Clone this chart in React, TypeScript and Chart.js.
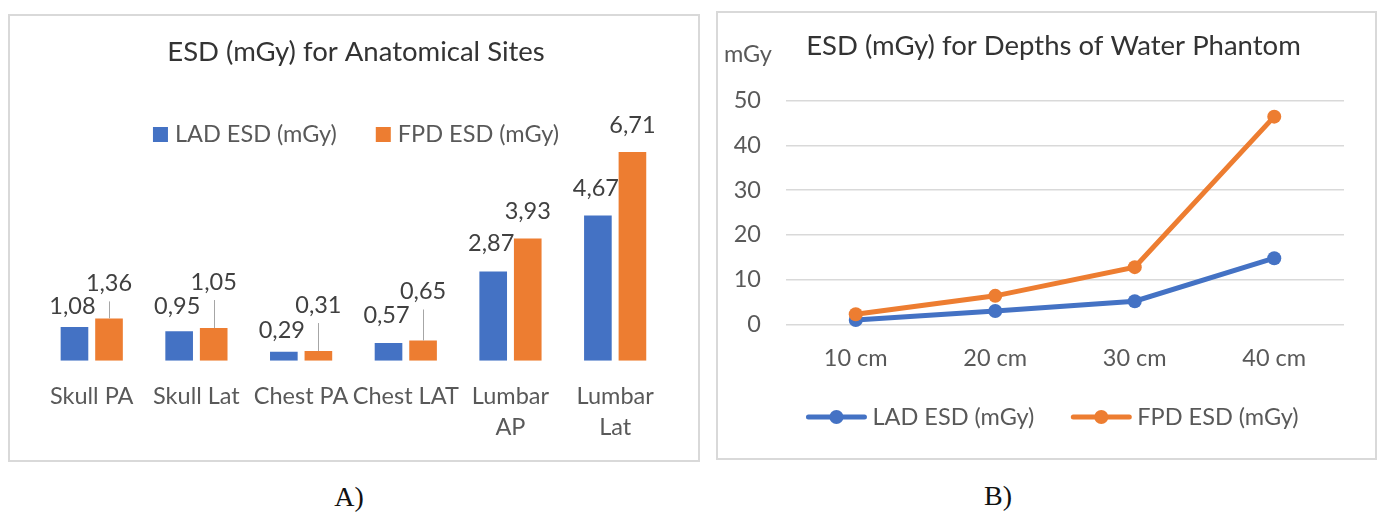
import React, { useEffect, useRef } from "react";
import { Chart, registerables } from "chart.js";

Chart.register(...registerables);

// ---------- data ----------
const siteCategories: string[][] = [
  ["Skull PA"],
  ["Skull Lat"],
  ["Chest PA"],
  ["Chest LAT"],
  ["Lumbar", "AP"],
  ["Lumbar", "Lat"],
];
const ladSiteValues = [1.08, 0.95, 0.29, 0.57, 2.87, 4.67];
const fpdSiteValues = [1.36, 1.05, 0.31, 0.65, 3.93, 6.71];

const depthCategories = ["10 cm", "20 cm", "30 cm", "40 cm"];
const ladDepthValues = [1.0, 3.0, 5.2, 14.8];
const fpdDepthValues = [2.3, 6.4, 12.8, 46.4];

const seriesNames = ["LAD ESD (mGy)", "FPD ESD (mGy)"];
const titleA = "ESD (mGy) for Anatomical Sites";
const titleB = "ESD (mGy) for Depths of Water Phantom";
const unitB = "mGy";

// ---------- style ----------
const ladLabelLift = [13, 17, 14, 20, 20, 19];
const fpdLabelLift = [27, 38, 38, 41, 19, 19];

const BLUE = "#4472C4";
const ORANGE = "#ED7D31";
const FONT = "Lato, 'Noto Sans', sans-serif";
const TEXT_TITLE = "#333333";
const TEXT_DARK = "#404040";
const TEXT_GRAY = "#595959";
const TITLE_SIZE = 27.5;
const TEXT_SIZE = 23.5;

const fmt = (v: number) => v.toFixed(2).replace(".", ",");

const annotA = {
  id: "annotA",
  afterDraw(chart: any) {
    const ctx = chart.ctx as CanvasRenderingContext2D;
    ctx.save();
    const cx = chart.width / 2 + 2;
    ctx.textBaseline = "alphabetic";
    // title
    ctx.font = `${TITLE_SIZE}px ${FONT}`;
    ctx.fillStyle = TEXT_TITLE;
    ctx.textAlign = "center";
    ctx.fillText(titleA, cx, 45);
    // legend
    ctx.font = `${TEXT_SIZE}px ${FONT}`;
    const sq = 15, gap = 7, itemGap = 39;
    const names = chart.data.datasets.map((d: any) => d.label);
    const widths = names.map((n: string) => ctx.measureText(n).width);
    const total = widths.reduce((a: number, w: number) => a + sq + gap + w, 0) + itemGap;
    let x = cx - total / 2;
    ctx.textAlign = "left";
    chart.data.datasets.forEach((d: any, i: number) => {
      ctx.fillStyle = d.backgroundColor;
      ctx.fillRect(x, 111, sq, sq);
      x += sq + gap;
      ctx.fillStyle = TEXT_GRAY;
      ctx.fillText(names[i], x, 126);
      x += widths[i] + itemGap;
    });
    // data labels
    ctx.font = `${TEXT_SIZE}px ${FONT}`;
    ctx.textAlign = "center";
    const m0 = chart.getDatasetMeta(0);
    const m1 = chart.getDatasetMeta(1);
    m0.data.forEach((bar: any, i: number) => {
      ctx.fillStyle = TEXT_DARK;
      ctx.fillText(fmt(chart.data.datasets[0].data[i]), bar.x - 2, bar.y - ladLabelLift[i]);
    });
    m1.data.forEach((bar: any, i: number) => {
      const base = bar.y - fpdLabelLift[i];
      ctx.fillStyle = TEXT_DARK;
      ctx.fillText(fmt(chart.data.datasets[1].data[i]), bar.x, base);
      if (fpdLabelLift[i] > 25) {
        ctx.strokeStyle = "#a6a6a6";
        ctx.lineWidth = 1;
        ctx.beginPath();
        const lx = Math.round(bar.x) + 0.5;
        ctx.moveTo(lx, base + 10);
        ctx.lineTo(lx, bar.y);
        ctx.stroke();
      }
    });
    ctx.restore();
  },
};

const annotB = {
  id: "annotB",
  afterDraw(chart: any) {
    const ctx = chart.ctx as CanvasRenderingContext2D;
    ctx.save();
    ctx.textBaseline = "alphabetic";
    // title
    ctx.font = `${TITLE_SIZE}px ${FONT}`;
    ctx.fillStyle = TEXT_TITLE;
    ctx.textAlign = "center";
    ctx.fillText(titleB, chart.width / 2 + 7, 42);
    // unit
    ctx.font = `${TEXT_SIZE}px ${FONT}`;
    ctx.fillStyle = TEXT_GRAY;
    ctx.textAlign = "left";
    ctx.fillText(unitB, 6, 49);
    // legend
    const sample = 60, gap = 6, itemGap = 37, ly = 404;
    const names = chart.data.datasets.map((d: any) => d.label);
    const widths = names.map((n: string) => ctx.measureText(n).width);
    const total = widths.reduce((a: number, w: number) => a + sample + gap + w, 0) + itemGap;
    let x = chart.width / 2 + 6 - total / 2;
    chart.data.datasets.forEach((d: any, i: number) => {
      ctx.strokeStyle = d.borderColor;
      ctx.lineWidth = 5;
      ctx.lineCap = "round";
      ctx.beginPath();
      ctx.moveTo(x + 2, ly);
      ctx.lineTo(x + sample - 2, ly);
      ctx.stroke();
      ctx.fillStyle = d.borderColor;
      ctx.beginPath();
      ctx.arc(x + sample / 2, ly, 7, 0, Math.PI * 2);
      ctx.fill();
      x += sample + gap;
      ctx.fillStyle = TEXT_GRAY;
      ctx.fillText(names[i], x, 412);
      x += widths[i] + itemGap;
    });
    ctx.restore();
  },
};

export default function App() {
  const refA = useRef<HTMLCanvasElement>(null);
  const refB = useRef<HTMLCanvasElement>(null);

  useEffect(() => {
    const chartA = new Chart(refA.current as HTMLCanvasElement, {
      type: "bar",
      data: {
        labels: siteCategories,
        datasets: [
          {
            label: seriesNames[0],
            data: ladSiteValues,
            backgroundColor: BLUE,
            categoryPercentage: 0.66,
            barPercentage: 0.8,
          },
          {
            label: seriesNames[1],
            data: fpdSiteValues,
            backgroundColor: ORANGE,
            categoryPercentage: 0.66,
            barPercentage: 0.8,
          },
        ],
      },
      options: {
        animation: false,
        responsive: false,
        maintainAspectRatio: false,
        layout: { padding: { left: 29.4, right: 30.5, top: 127, bottom: 9.3 } },
        plugins: {
          legend: { display: false },
          title: { display: false },
          tooltip: { enabled: false },
        },
        scales: {
          x: {
            grid: { display: false, drawTicks: false },
            border: { display: false },
            ticks: {
              color: TEXT_GRAY,
              font: { family: FONT, size: TEXT_SIZE, lineHeight: 31 / TEXT_SIZE },
              padding: 20,
              maxRotation: 0,
              autoSkip: false,
            },
            afterFit: (s: any) => {
              s.height = 90;
            },
          },
          y: { display: false, min: 0, max: 7 },
        },
      },
      plugins: [annotA],
    } as any);

    const chartB = new Chart(refB.current as HTMLCanvasElement, {
      type: "line",
      data: {
        labels: depthCategories,
        datasets: [
          {
            label: seriesNames[0],
            data: ladDepthValues,
            borderColor: BLUE,
            backgroundColor: BLUE,
            borderWidth: 5,
            pointRadius: 7,
            pointBorderWidth: 0,
            pointBackgroundColor: BLUE,
            tension: 0,
            clip: false,
            order: 2,
          },
          {
            label: seriesNames[1],
            data: fpdDepthValues,
            borderColor: ORANGE,
            backgroundColor: ORANGE,
            borderWidth: 5,
            pointRadius: 7,
            pointBorderWidth: 0,
            pointBackgroundColor: ORANGE,
            tension: 0,
            clip: false,
            order: 1,
          },
        ],
      },
      options: {
        animation: false,
        responsive: false,
        maintainAspectRatio: false,
        layout: { padding: { left: 8, right: 31, top: 87.5, bottom: 73.5 } },
        plugins: {
          legend: { display: false },
          title: { display: false },
          tooltip: { enabled: false },
        },
        scales: {
          x: {
            offset: true,
            grid: { display: false, drawTicks: false },
            border: { display: false },
            ticks: {
              color: TEXT_GRAY,
              font: { family: FONT, size: TEXT_SIZE, lineHeight: 30 / TEXT_SIZE },
              padding: 19,
              maxRotation: 0,
            },
            afterFit: (s: any) => {
              s.height = 60;
            },
          },
          y: {
            min: 0,
            max: 50,
            grid: { color: "#d9d9d9", lineWidth: 1.5, drawTicks: false },
            border: { display: false },
            ticks: {
              stepSize: 10,
              color: TEXT_GRAY,
              font: { family: FONT, size: TEXT_SIZE },
              padding: 25,
            },
            afterFit: (s: any) => {
              s.width = 60;
            },
          },
        },
      },
      plugins: [annotB],
    } as any);

    return () => {
      chartA.destroy();
      chartB.destroy();
    };
  }, []);

  const figLabel: React.CSSProperties = {
    position: "absolute",
    width: 60,
    textAlign: "center",
    font: "28px 'Liberation Serif', 'DejaVu Serif', serif",
    lineHeight: "28px",
    color: "#111",
  };

  return (
    <div
      style={{
        position: "fixed",
        left: 0,
        top: 0,
        width: 1380,
        height: 513,
        overflow: "hidden",
        background: "#fff",
      }}
    >
      <div
        style={{
          position: "absolute",
          left: 8,
          top: 14,
          width: 692,
          height: 448,
          border: "2px solid #d9d9d9",
          boxSizing: "border-box",
        }}
      />
      <canvas
        ref={refA}
        width={688}
        height={444}
        style={{ position: "absolute", left: 10, top: 16, width: 688, height: 444 }}
      />
      <div
        style={{
          position: "absolute",
          left: 716,
          top: 11,
          width: 661,
          height: 449,
          border: "2px solid #d9d9d9",
          boxSizing: "border-box",
        }}
      />
      <canvas
        ref={refB}
        width={657}
        height={445}
        style={{ position: "absolute", left: 718, top: 13, width: 657, height: 445 }}
      />
      <div style={{ ...figLabel, left: 319, top: 483 }}>A)</div>
      <div style={{ ...figLabel, left: 968, top: 482 }}>B)</div>
    </div>
  );
}
